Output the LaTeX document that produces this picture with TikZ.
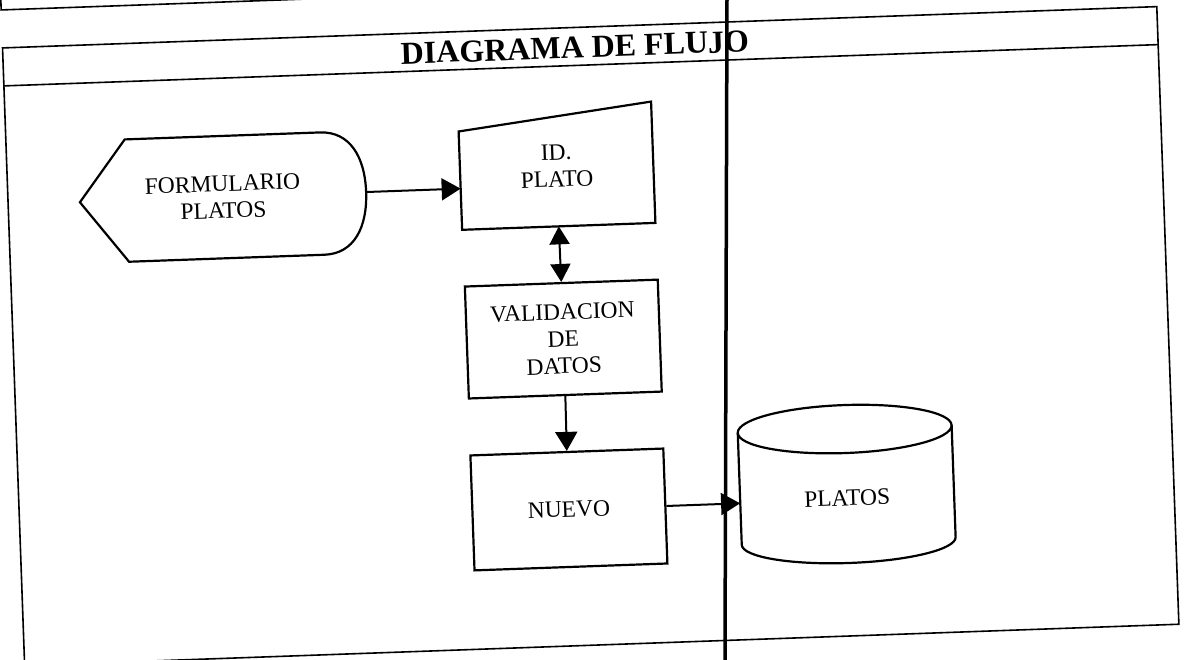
\documentclass[tikz,border=0pt]{standalone}
\usepackage{fontspec}
\setmainfont{Liberation Serif}
\usetikzlibrary{arrows.meta}

\begin{document}
\begin{tikzpicture}[x=1pt,y=1pt,
  txt/.style={font=\fontsize{23.5}{27}\selectfont, align=center, inner sep=0pt},
  proc/.style={txt, draw, line width=2.2pt, minimum width=193pt},
  shp/.style={line width=2.2pt},
  frm/.style={line width=1.6pt},
  arr/.style={line width=2pt, -{Triangle[length=19pt,width=22pt]}}]

  \useasboundingbox (-593,-330) rectangle (593,330);
  \clip (-593,-330) rectangle (593,330);

  \begin{scope}[rotate=2.05, transform shape]
  % marco
  \draw[frm] (-580,420) -- (-580,341) -- (420,341);
  \draw[frm] (-580,-315) rectangle (575,303);
  \draw[frm] (-580,265) -- (575,265);
  \node[font=\fontsize{32}{40}\selectfont\bfseries, inner sep=0pt] (titulo) at (-8,283) {DIAGRAMA DE FLUJO};

  % simbolos
  \node[txt, minimum width=286pt, minimum height=122pt] (form) at (-365,146) {FORMULARIO\\PLATOS};
  \draw[shp] (form.west) -- ([xshift=47pt]form.north west) -- ([xshift=-44pt]form.north east)
    .. controls +(30,0) and +(0,35) .. (form.east)
    .. controls +(0,-35) and +(30,0) .. ([xshift=-44pt]form.south east)
    -- ([xshift=47pt]form.south west) -- cycle;

  \node[txt, minimum width=193pt, minimum height=121pt] (idplato) at (-30.5,165.5) {ID.\\PLATO};
  \draw[shp] (idplato.south west) -- (idplato.south east) -- (idplato.north east)
    -- ([yshift=-23pt]idplato.north west) -- cycle;

  \node[proc, minimum height=112pt] (valid) at (-30,-8) {VALIDACION\\DE\\DATOS};
  \node[proc, minimum height=115pt] (nuevo) at (-30.5,-178.5) {NUEVO};

  \node[txt, minimum width=214pt, minimum height=130pt] (platos) at (248,-177) {PLATOS};
  \draw[shp] ([yshift=69pt]platos.center) ellipse [x radius=107pt, y radius=24pt];
  \draw[shp] ([shift={(-107pt,69pt)}]platos.center) -- ([shift={(-107pt,-43pt)}]platos.center)
    arc[start angle=180, end angle=360, x radius=107pt, y radius=22pt]
    -- ([shift={(107pt,69pt)}]platos.center);

  % flechas
  \draw[arr] (form.east) -- (form.east -| idplato.west);
  \draw[line width=2pt, {Triangle[length=18pt,width=20pt]}-{Triangle[length=18pt,width=20pt]}]
    (idplato.south) -- (valid.north);
  \draw[arr] (valid.south) -- (nuevo.north);
  \draw[arr] (nuevo.east) -- (nuevo.east -| platos.west);
  \end{scope}

  % linea vertical
  \draw[line width=3.5pt] (134,330) -- (132,-330);
\end{tikzpicture}
\end{document}
